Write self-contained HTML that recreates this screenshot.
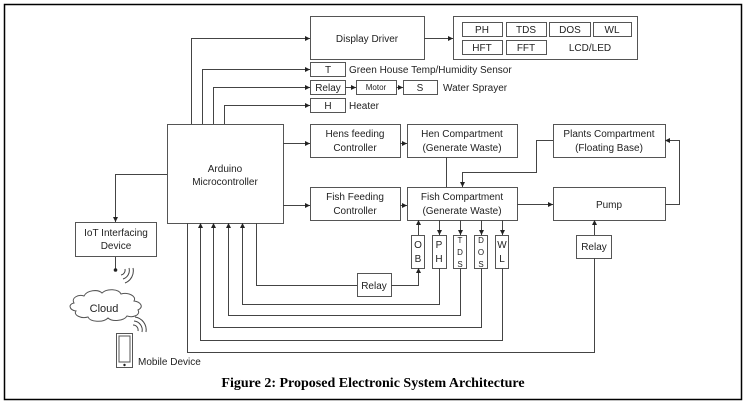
<!DOCTYPE html>
<html><head><meta charset="utf-8"><style>
html,body{margin:0;padding:0;background:#fff;}
svg{display:block;}
text{font-family:"Liberation Sans",sans-serif;font-size:10px;fill:#222;}
.b{fill:#fff;stroke:#555;stroke-width:1;}
.l{fill:none;stroke:#444;stroke-width:1;}
</style></head><body>
<svg width="746" height="403" viewBox="0 0 746 403" xmlns="http://www.w3.org/2000/svg">
<defs><marker id="a" viewBox="0 0 6 6" refX="6" refY="3" markerWidth="5" markerHeight="5" orient="auto"><path d="M0,0L6,3L0,6z" fill="#222"/></marker></defs>
<rect x="4.5" y="4.5" width="737" height="395" fill="none" stroke="#000" stroke-width="1.5"/>
<rect class="b" x="310.5" y="16.5" width="114" height="43"/><text x="367" y="42" text-anchor="middle">Display Driver</text>
<rect class="b" x="453.5" y="16.5" width="184" height="43"/>
<rect class="b" x="462.5" y="22.5" width="40" height="14"/><text x="482" y="33" text-anchor="middle">PH</text>
<rect class="b" x="506.5" y="22.5" width="40" height="14"/><text x="526" y="33" text-anchor="middle">TDS</text>
<rect class="b" x="549.5" y="22.5" width="41" height="14"/><text x="570" y="33" text-anchor="middle">DOS</text>
<rect class="b" x="593.5" y="22.5" width="38" height="14"/><text x="612" y="33" text-anchor="middle">WL</text>
<rect class="b" x="462.5" y="40.5" width="40" height="14"/><text x="482" y="51" text-anchor="middle">HFT</text>
<rect class="b" x="506.5" y="40.5" width="40" height="14"/><text x="526" y="51" text-anchor="middle">FFT</text>
<text x="590" y="51" text-anchor="middle">LCD/LED</text>
<rect class="b" x="310.5" y="62.5" width="35" height="14"/><text x="328" y="73" text-anchor="middle">T</text><text x="349" y="73">Green House Temp/Humidity Sensor</text>
<rect class="b" x="310.5" y="80.5" width="35" height="14"/><text x="328" y="91" text-anchor="middle">Relay</text>
<rect class="b" x="356.5" y="80.5" width="40" height="14"/><text x="376" y="90" text-anchor="middle" style="font-size:8px">Motor</text>
<rect class="b" x="403.5" y="80.5" width="34" height="14"/><text x="420" y="91" text-anchor="middle">S</text><text x="443" y="91">Water Sprayer</text>
<rect class="b" x="310.5" y="98.5" width="35" height="14"/><text x="328" y="109" text-anchor="middle">H</text><text x="349" y="109">Heater</text>
<rect class="b" x="167.5" y="124.5" width="116" height="99"/><text x="225" y="172" text-anchor="middle">Arduino</text><text x="225" y="185" text-anchor="middle">Microcontroller</text>
<rect class="b" x="310.5" y="124.5" width="90" height="33"/><text x="355" y="137" text-anchor="middle">Hens feeding</text><text x="355" y="151" text-anchor="middle">Controller</text>
<rect class="b" x="407.5" y="124.5" width="110" height="33"/><text x="462" y="137" text-anchor="middle">Hen Compartment</text><text x="462" y="151" text-anchor="middle">(Generate Waste)</text>
<rect class="b" x="553.5" y="124.5" width="112" height="33"/><text x="609" y="137" text-anchor="middle">Plants Compartment</text><text x="609" y="151" text-anchor="middle">(Floating Base)</text>
<rect class="b" x="310.5" y="187.5" width="90" height="33"/><text x="355" y="200" text-anchor="middle">Fish Feeding</text><text x="355" y="214" text-anchor="middle">Controller</text>
<rect class="b" x="407.5" y="187.5" width="110" height="33"/><text x="462" y="200" text-anchor="middle">Fish Compartment</text><text x="462" y="214" text-anchor="middle">(Generate Waste)</text>
<rect class="b" x="553.5" y="187.5" width="112" height="33"/><text x="609" y="208" text-anchor="middle">Pump</text>
<rect class="b" x="576.5" y="235.5" width="35" height="23"/><text x="594" y="250" text-anchor="middle">Relay</text>
<rect class="b" x="357.5" y="273.5" width="34" height="23"/><text x="374" y="289" text-anchor="middle">Relay</text>
<rect class="b" x="75.5" y="222.5" width="81" height="34"/><text x="116" y="236" text-anchor="middle">IoT Interfacing</text><text x="116" y="249" text-anchor="middle">Device</text>
<rect class="b" x="411.5" y="235.5" width="13" height="33"/><text x="418" y="248" text-anchor="middle">O</text><text x="418" y="262" text-anchor="middle">B</text>
<rect class="b" x="432.5" y="235.5" width="14" height="33"/><text x="439" y="248" text-anchor="middle">P</text><text x="439" y="262" text-anchor="middle">H</text>
<rect class="b" x="453.5" y="235.5" width="13" height="33"/><text x="460" y="243" text-anchor="middle" style="font-size:8px">T</text><text x="460" y="255" text-anchor="middle" style="font-size:8px">D</text><text x="460" y="267" text-anchor="middle" style="font-size:8px">S</text>
<rect class="b" x="474.5" y="235.5" width="13" height="33"/><text x="481" y="243" text-anchor="middle" style="font-size:8px">D</text><text x="481" y="255" text-anchor="middle" style="font-size:8px">O</text><text x="481" y="267" text-anchor="middle" style="font-size:8px">S</text>
<rect class="b" x="495.5" y="235.5" width="13" height="33"/><text x="502" y="248" text-anchor="middle">W</text><text x="502" y="262" text-anchor="middle">L</text>
<path class="l" marker-end="url(#a)" d="M191.5,124V38.5H310"/>
<path class="l" marker-end="url(#a)" d="M202.5,124V69.5H310"/>
<path class="l" marker-end="url(#a)" d="M213.5,124V87.5H310"/>
<path class="l" marker-end="url(#a)" d="M224.5,124V105.5H310"/>
<path class="l" marker-end="url(#a)" d="M345,87.5H356"/>
<path class="l" marker-end="url(#a)" d="M396,87.5H403"/>
<path class="l" marker-end="url(#a)" d="M424,38.5H453"/>
<path class="l" marker-end="url(#a)" d="M283,143.5H310"/>
<path class="l" marker-end="url(#a)" d="M400,143.5H407"/>
<path class="l" marker-end="url(#a)" d="M283,205.5H310"/>
<path class="l" marker-end="url(#a)" d="M400,205.5H407"/>
<path class="l" marker-end="url(#a)" d="M517,204.5H553"/>
<path class="l" marker-end="url(#a)" d="M665,204.5H679.5V140.5H665"/>
<path class="l" marker-end="url(#a)" d="M553,140.5H536.5V172.5H462.5V187"/>
<path class="l" d="M446.5,157V187"/>
<path class="l" marker-end="url(#a)" d="M418.5,235V220"/>
<path class="l" marker-end="url(#a)" d="M439.5,220V235"/>
<path class="l" marker-end="url(#a)" d="M460.5,220V235"/>
<path class="l" marker-end="url(#a)" d="M481.5,220V235"/>
<path class="l" marker-end="url(#a)" d="M502.5,220V235"/>
<path class="l" marker-end="url(#a)" d="M594.5,235V220"/>
<path class="l" marker-end="url(#a)" d="M391,285.5H418.5V268"/>
<path class="l" d="M357,285.5H256.5V223"/>
<path class="l" marker-end="url(#a)" d="M439.5,268V304.5H242.5V223"/>
<path class="l" marker-end="url(#a)" d="M460.5,268V315.5H228.5V223"/>
<path class="l" marker-end="url(#a)" d="M481.5,268V327.5H213.5V223"/>
<path class="l" marker-end="url(#a)" d="M502.5,268V340.5H200.5V223"/>
<path class="l" d="M594.5,258V352.5H187.5V223"/>
<path class="l" marker-end="url(#a)" d="M167,174.5H115.5V222"/>
<path class="l" d="M115.5,257V270"/><circle cx="115.5" cy="270" r="1.8" fill="#222"/>
<g class="l"><path d="M121,275a5,5 0 0 0 4,-6"/><path d="M123,279a9,9 0 0 0 6,-11"/><path d="M125,283a13,13 0 0 0 8,-15"/></g>
<path d="M74,303c-3,-5 4,-9 10,-7c3,-6 14,-7 18,-3c5,-5 17,-4 19,1c7,-2 16,2 13,7c7,1 10,6 4,9c3,5 -5,8 -11,6c-3,5 -15,6 -19,2c-5,5 -18,4 -20,-1c-7,2 -15,-2 -12,-6c-7,-1 -8,-7 -2,-8z" fill="#fff" stroke="#555"/>
<text x="104" y="312" text-anchor="middle" style="font-size:11px">Cloud</text>
<g class="l"><path d="M133,325a5,5 0 0 1 5,6"/><path d="M134,321a9,9 0 0 1 8,11"/><path d="M135,317a13,13 0 0 1 11,15"/></g>
<rect class="b" x="116.5" y="333.5" width="16" height="34"/><rect x="119" y="336" width="11" height="26" fill="none" stroke="#555"/><circle cx="124.5" cy="365" r="1.2" fill="#222"/>
<text x="138" y="365">Mobile Device</text>
<text x="373" y="387" text-anchor="middle" style="font-family:'Liberation Serif',serif;font-weight:bold;font-size:14px;fill:#000">Figure 2: Proposed Electronic System Architecture</text>
</svg>
</body></html>
